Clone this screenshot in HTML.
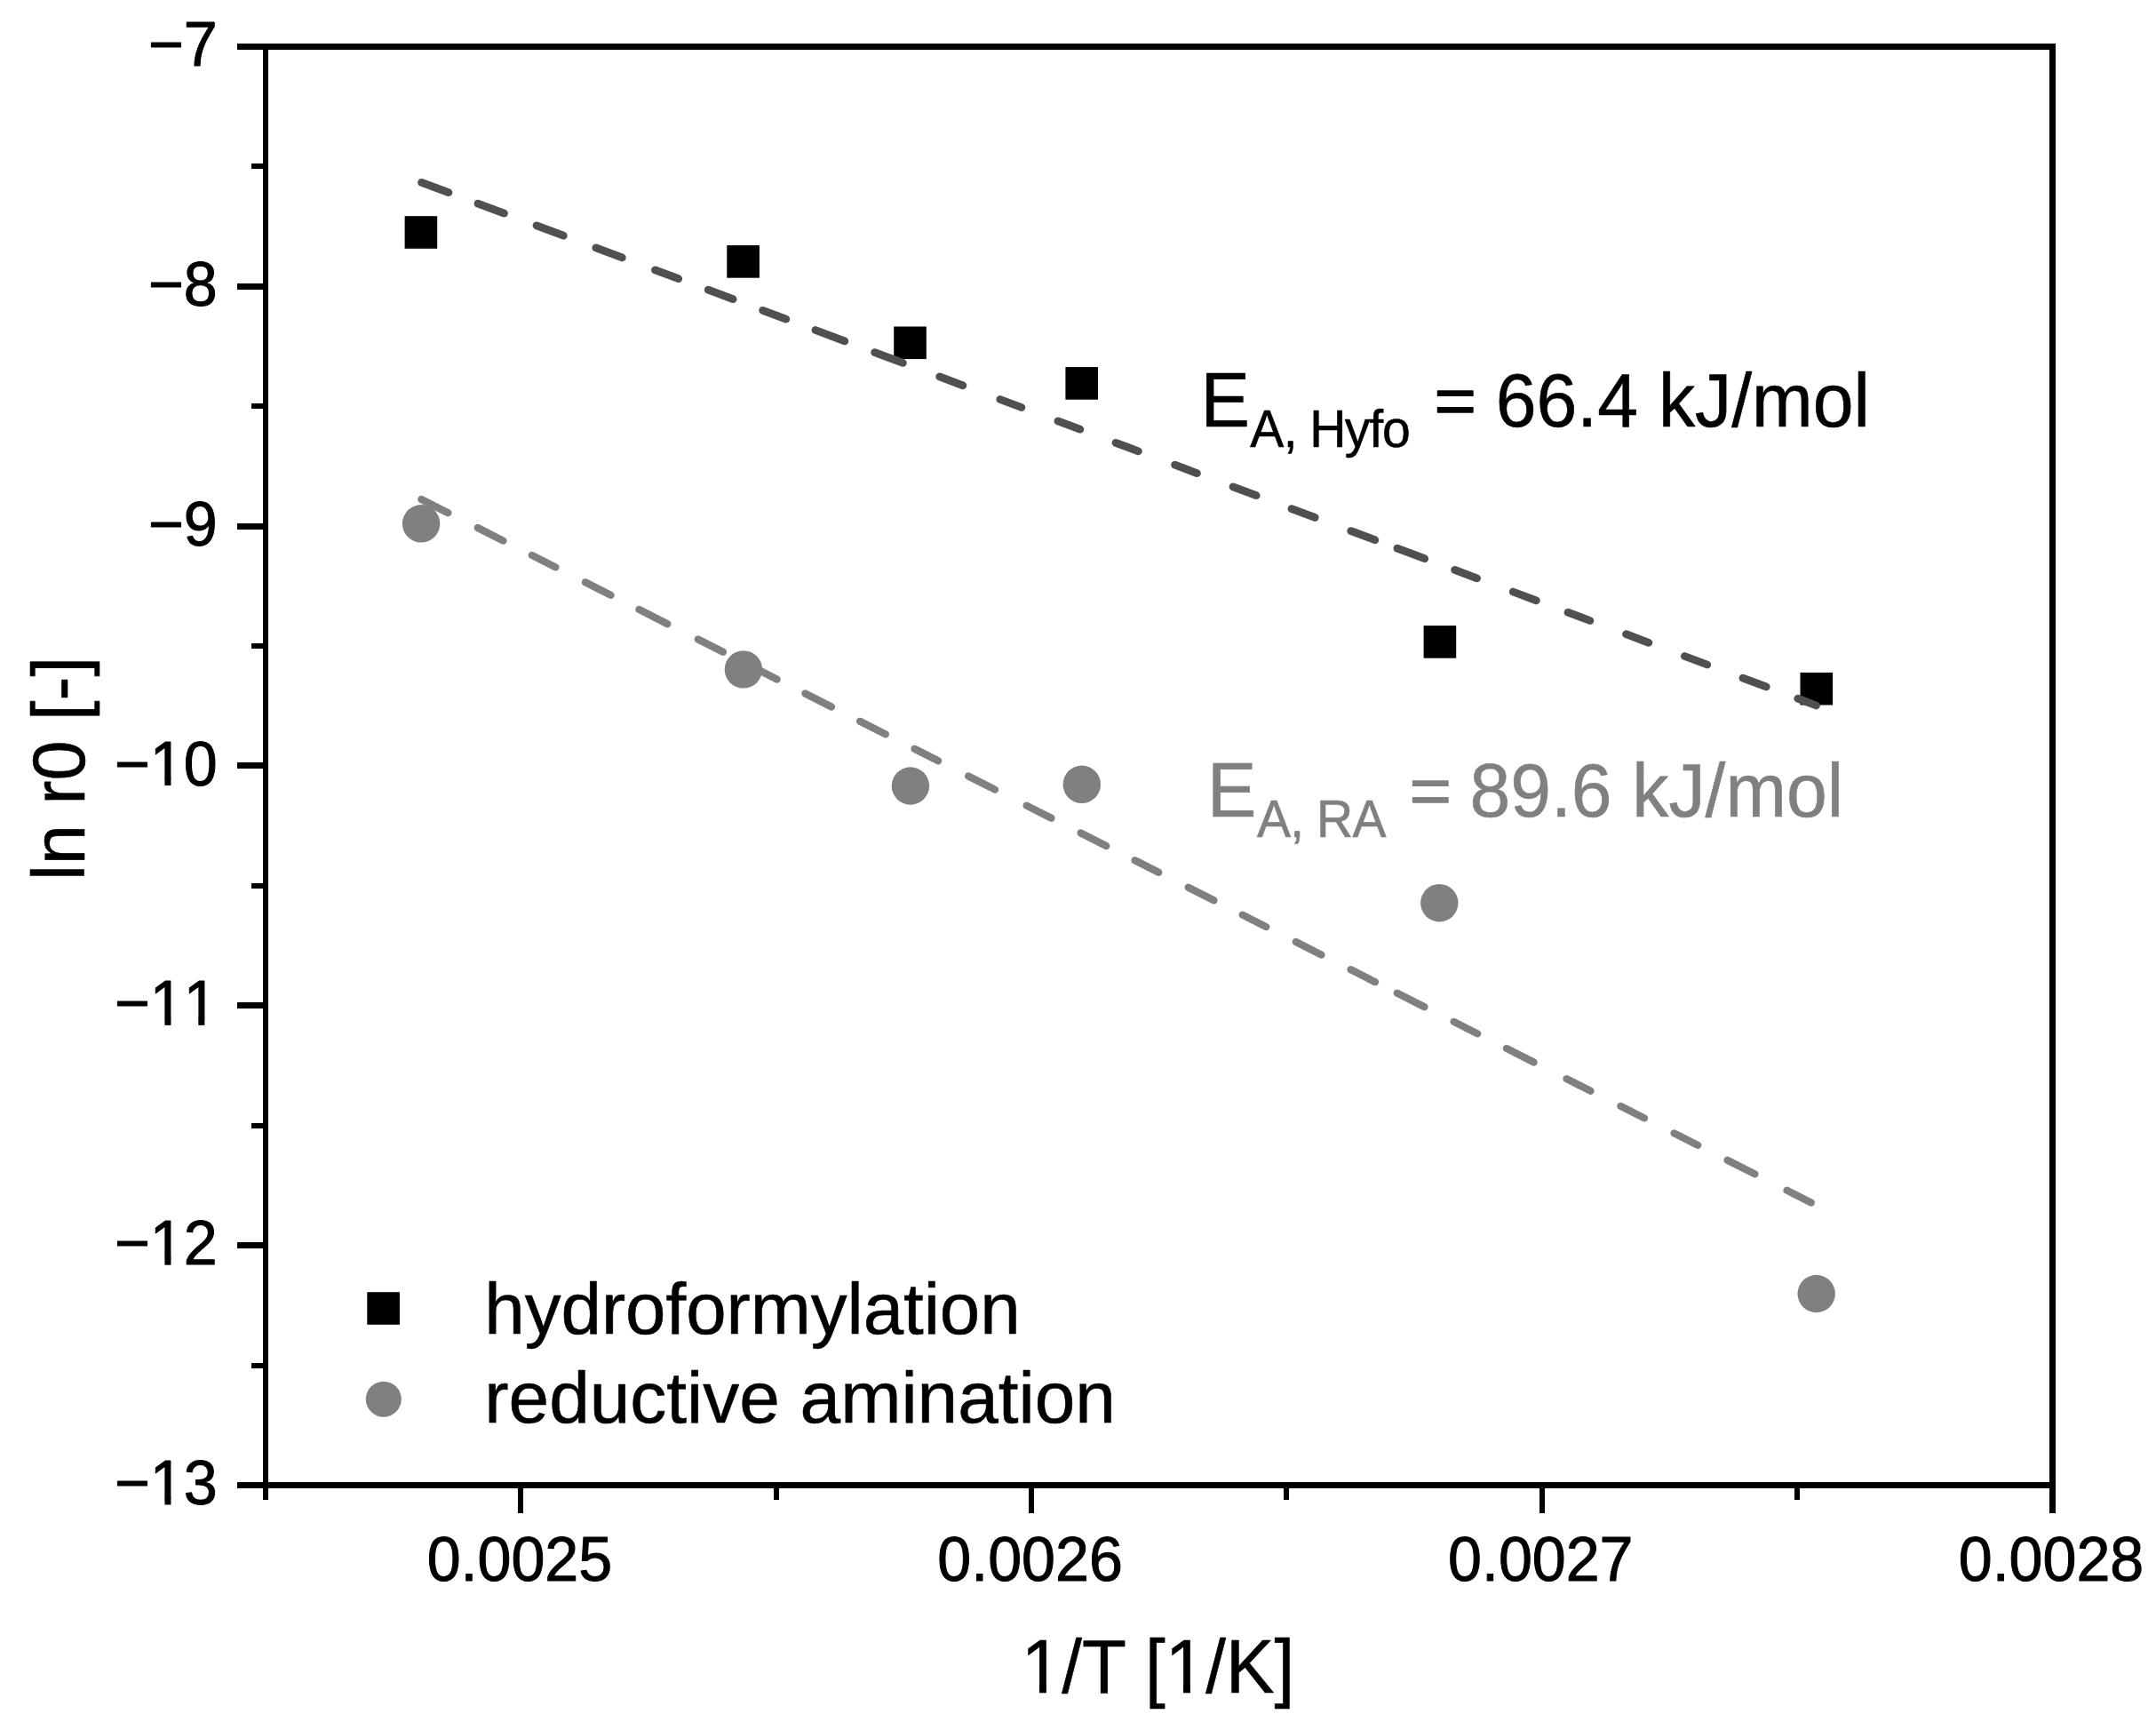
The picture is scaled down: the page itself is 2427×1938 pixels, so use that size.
<!DOCTYPE html>
<html lang="en"><head><meta charset="utf-8"><title>Arrhenius plot</title>
<style>html,body{margin:0;padding:0;background:#fff}svg{display:block}text{font-family:"Liberation Sans",Arial,Helvetica,sans-serif;fill:#000;stroke:#000;stroke-width:0.6px;stroke-linejoin:round}.tk{font-size:68.5px;font-kerning:none;stroke-width:1px}.lb{font-size:83px}.sb{font-size:57px}</style></head><body>
<svg width="2427" height="1938" viewBox="0 0 2427 1938">
<rect x="0" y="0" width="2427" height="1938" fill="#fff"/>
<rect x="455.6" y="243.2" width="36.6" height="36.6" fill="#000"/>
<rect x="818.3" y="276.1" width="36.6" height="36.6" fill="#000"/>
<rect x="1006.2" y="367.5" width="36.6" height="36.6" fill="#000"/>
<rect x="1199.4" y="413.1" width="36.6" height="36.6" fill="#000"/>
<rect x="1602.6" y="704.1" width="36.6" height="36.6" fill="#000"/>
<rect x="2026.5" y="756.9" width="36.6" height="36.6" fill="#000"/>
<circle cx="474.1" cy="589.3" r="21.2" fill="#808080"/>
<circle cx="836.9" cy="753.4" r="21.2" fill="#808080"/>
<circle cx="1024.9" cy="884.5" r="21.2" fill="#808080"/>
<circle cx="1217.8" cy="882.8" r="21.2" fill="#808080"/>
<circle cx="1620.3" cy="1016.2" r="21.2" fill="#808080"/>
<circle cx="2044.7" cy="1456.0" r="21.2" fill="#808080"/>
<g stroke="#505050" stroke-width="8.8" stroke-linecap="round" fill="none"><line x1="474.6" y1="205.3" x2="504.9" y2="216.6"/><line x1="538.0" y1="229.1" x2="567.5" y2="240.1"/><line x1="604.0" y1="253.8" x2="634.3" y2="265.2"/><line x1="670.8" y1="278.9" x2="700.3" y2="289.9"/><line x1="737.5" y1="303.9" x2="763.7" y2="313.7"/><line x1="797.2" y1="326.2" x2="825.1" y2="336.7"/><line x1="858.6" y1="349.3" x2="884.8" y2="359.1"/><line x1="917.9" y1="371.5" x2="950.8" y2="383.9"/><line x1="984.7" y1="396.6" x2="1016.3" y2="408.4"/><line x1="1057.7" y1="423.9" x2="1083.9" y2="433.8"/><line x1="1125.8" y1="449.5" x2="1149.9" y2="458.5"/><line x1="1190.9" y1="473.9" x2="1215.8" y2="483.2"/><line x1="1256.0" y1="498.3" x2="1281.4" y2="507.8"/><line x1="1322.5" y1="523.2" x2="1347.4" y2="532.6"/><line x1="1388.0" y1="547.8" x2="1414.2" y2="557.6"/><line x1="1454.0" y1="572.6" x2="1480.2" y2="582.4"/><line x1="1520.8" y1="597.6" x2="1547.8" y2="607.7"/><line x1="1572.9" y1="617.1" x2="1603.7" y2="628.7"/><line x1="1637.6" y1="641.4" x2="1662.6" y2="650.8"/><line x1="1703.2" y1="666.0" x2="1729.4" y2="675.8"/><line x1="1765.0" y1="689.2" x2="1789.9" y2="698.5"/><line x1="1830.5" y1="713.7" x2="1855.9" y2="723.3"/><line x1="1896.4" y1="738.5" x2="1921.8" y2="748.0"/><line x1="1962.0" y1="763.1" x2="1988.2" y2="772.9"/><line x1="2023.8" y1="786.2" x2="2044.5" y2="794.0"/></g>
<g stroke="#808080" stroke-width="8.3" stroke-linecap="round" fill="none"><line x1="474.3" y1="562.0" x2="504.4" y2="577.2"/><line x1="537.8" y1="594.0" x2="566.5" y2="608.6"/><line x1="598.8" y1="624.9" x2="625.4" y2="638.4"/><line x1="658.9" y1="655.3" x2="687.6" y2="669.9"/><line x1="719.4" y1="685.9" x2="751.4" y2="702.2"/><line x1="785.8" y1="719.5" x2="814.0" y2="733.8"/><line x1="845.9" y1="749.9" x2="874.6" y2="764.5"/><line x1="906.4" y1="780.5" x2="935.9" y2="795.5"/><line x1="968.1" y1="811.8" x2="996.9" y2="826.4"/><line x1="1029.5" y1="842.8" x2="1056.1" y2="856.3"/><line x1="1090.1" y1="873.5" x2="1120.0" y2="888.6"/><line x1="1155.6" y1="906.6" x2="1183.5" y2="920.8"/><line x1="1216.6" y1="937.5" x2="1245.2" y2="952.0"/><line x1="1277.6" y1="968.3" x2="1304.2" y2="981.8"/><line x1="1337.7" y1="998.7" x2="1366.4" y2="1013.3"/><line x1="1398.7" y1="1029.6" x2="1425.3" y2="1043.1"/><line x1="1458.8" y1="1060.0" x2="1487.5" y2="1074.6"/><line x1="1520.6" y1="1091.2" x2="1548.0" y2="1105.2"/><line x1="1572.7" y1="1117.6" x2="1603.5" y2="1133.2"/><line x1="1636.6" y1="1149.9" x2="1663.2" y2="1163.4"/><line x1="1695.9" y1="1179.9" x2="1726.6" y2="1195.5"/><line x1="1763.5" y1="1214.1" x2="1790.5" y2="1227.8"/><line x1="1824.4" y1="1244.9" x2="1851.0" y2="1258.4"/><line x1="1884.6" y1="1275.4" x2="1911.2" y2="1288.9"/><line x1="1944.6" y1="1305.7" x2="1975.5" y2="1321.4"/><line x1="2011.5" y1="1339.6" x2="2038.8" y2="1353.5"/></g>
<g fill="#000" shape-rendering="crispEdges">
<rect x="267" y="49" width="2047" height="7"/>
<rect x="267" y="1668" width="2047" height="7"/>
<rect x="296" y="49" width="6" height="1639"/>
<rect x="2307" y="49" width="7" height="1654"/>
<rect x="283" y="184" width="14" height="6"/>
<rect x="267" y="319" width="30" height="7"/>
<rect x="283" y="454" width="14" height="6"/>
<rect x="267" y="589" width="30" height="7"/>
<rect x="283" y="724" width="14" height="6"/>
<rect x="267" y="858" width="30" height="7"/>
<rect x="283" y="994" width="14" height="6"/>
<rect x="267" y="1128" width="30" height="7"/>
<rect x="283" y="1264" width="14" height="6"/>
<rect x="267" y="1398" width="30" height="7"/>
<rect x="283" y="1534" width="14" height="6"/>
<rect x="583" y="1670" width="6" height="33"/>
<rect x="871" y="1670" width="6" height="18"/>
<rect x="1158" y="1670" width="6" height="33"/>
<rect x="1445" y="1670" width="6" height="18"/>
<rect x="1733" y="1670" width="6" height="33"/>
<rect x="2020" y="1670" width="6" height="18"/>
</g>
<text class="tk" transform="translate(244.60,74.00) scale(0.995,1.035)" text-anchor="end">−7</text>
<text class="tk" transform="translate(244.60,343.83) scale(0.995,1.035)" text-anchor="end">−8</text>
<text class="tk" transform="translate(244.60,613.67) scale(0.995,1.035)" text-anchor="end">−9</text>
<text class="tk" transform="translate(244.60,883.50) scale(0.995,1.035)" text-anchor="end">−10</text>
<text class="tk" transform="translate(244.60,1153.33) scale(0.995,1.035)" text-anchor="end">−11</text>
<text class="tk" transform="translate(244.60,1423.17) scale(0.995,1.035)" text-anchor="end">−12</text>
<text class="tk" transform="translate(244.60,1693.00) scale(0.995,1.035)" text-anchor="end">−13</text>
<text class="tk" transform="translate(584.86,1778.80) scale(0.995,1.035)" text-anchor="middle">0.0025</text>
<text class="tk" transform="translate(1159.57,1778.80) scale(0.995,1.035)" text-anchor="middle">0.0026</text>
<text class="tk" transform="translate(1734.29,1778.80) scale(0.995,1.035)" text-anchor="middle">0.0027</text>
<text class="tk" transform="translate(2309.00,1778.80) scale(0.995,1.035)" text-anchor="middle">0.0028</text>
<text class="lb" transform="translate(1303.50,1905.00) scale(0.985,1.03)" text-anchor="middle">1/T [1/K]</text>
<text class="lb" transform="translate(95.00,865.00) rotate(-90) scale(0.975,1.0)" text-anchor="middle">ln r0 [-]</text>
<g>
<text class="lb" transform="translate(1351.40,480.20) scale(1.0,1.04)">E</text>
<text class="sb" transform="translate(1407.30,503.00) scale(1.0,1.04)" dx="0 -0.6 0 -2.1 -1.6 -1.1 -1.1">A, Hyfo</text>
<text class="lb" transform="translate(1614.50,475.85) scale(0.98,0.9)" style="stroke-width:1.4px">=</text>
<text class="lb" transform="translate(1683.70,480.20) scale(0.9923,1.03)">66.4 kJ/mol</text>
</g>
<g>
<text class="lb" transform="translate(1359.00,919.00) scale(1.0,1.04)" style="fill:#808080;stroke:#808080;">E</text>
<text class="sb" transform="translate(1414.90,941.80) scale(1.0,1.04)" style="fill:#808080;stroke:#808080;" dx="0 -0.6 0 -2.1 -0.5">A, RA</text>
<text class="lb" transform="translate(1586.50,914.65) scale(0.98,0.9)" style="fill:#808080;stroke:#808080;stroke-width:1.4px">=</text>
<text class="lb" transform="translate(1654.40,919.00) scale(0.991,1.03)" style="fill:#808080;stroke:#808080;">89.6 kJ/mol</text>
</g>
<rect x="413.3" y="1454.2" width="36.6" height="36.6" fill="#000"/>
<circle cx="431.8" cy="1574.7" r="20" fill="#808080"/>
<text class="lb" transform="translate(545.30,1500.70) scale(0.9835,0.99)">hydroformylation</text>
<text class="lb" transform="translate(545.30,1601.40) scale(0.9875,0.99)">reductive amination</text>
<rect x="172.47" y="876.90" width="32.39" height="9.60" fill="#fff"/>
<rect x="185.42" y="875.70" width="7.02" height="8.30" fill="#000"/>
<rect x="172.47" y="1146.73" width="32.39" height="9.60" fill="#fff"/>
<rect x="185.42" y="1145.53" width="7.02" height="8.30" fill="#000"/>
<rect x="210.37" y="1146.73" width="32.39" height="9.60" fill="#fff"/>
<rect x="223.32" y="1145.53" width="7.02" height="8.30" fill="#000"/>
<rect x="172.47" y="1416.57" width="32.39" height="9.60" fill="#fff"/>
<rect x="185.42" y="1415.37" width="7.02" height="8.30" fill="#000"/>
<rect x="172.47" y="1686.40" width="32.39" height="9.60" fill="#fff"/>
<rect x="185.42" y="1685.20" width="7.02" height="8.30" fill="#000"/>
<rect x="1154.90" y="1897.71" width="37.45" height="9.89" fill="#fff"/>
<rect x="1170.04" y="1896.51" width="7.83" height="8.79" fill="#000"/>
<rect x="1316.93" y="1897.71" width="37.45" height="9.89" fill="#fff"/>
<rect x="1332.06" y="1896.51" width="7.83" height="8.79" fill="#000"/>
</svg></body></html>
